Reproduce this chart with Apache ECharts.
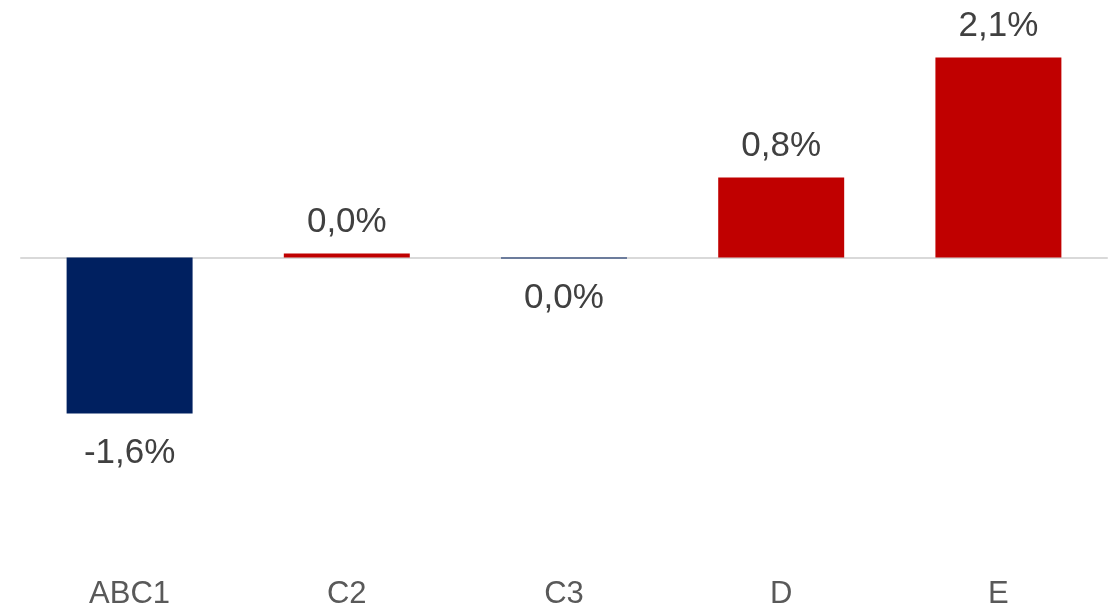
<!DOCTYPE html>
<html>
<head>
<meta charset="utf-8">
<script src="https://cdn.jsdelivr.net/npm/echarts@6/dist/echarts.min.js"></script>
<style>html,body{margin:0;padding:0;background:#fff}#c{width:1112px;height:610px}</style>
</head>
<body>
<div id="c"></div>
<script>
const categories = ['ABC1', 'C2', 'C3', 'D', 'E'];
const values = [-1.64, 0.04, -0.01, 0.84, 2.1];
const labels = ['-1,6%', '0,0%', '0,0%', '0,8%', '2,1%'];
const POS_COLOR = '#C00000';
const NEG_COLOR = '#002060';

const chart = echarts.init(document.getElementById('c'));
const data = values.map((v, i) => ({
  value: v,
  itemStyle: { color: v < 0 ? NEG_COLOR : POS_COLOR },
  label: { position: v < 0 ? 'bottom' : 'top', distance: v < 0 ? 22 : 14, formatter: labels[i] }
}));
chart.setOption({
  animation: false,
  grid: { left: 21, right: 5, top: 48, bottom: 63 },
  xAxis: [
    {
      type: 'category', data: categories, position: 'bottom',
      axisLine: { show: false, onZero: false }, axisTick: { show: false },
      axisLabel: { fontFamily: 'Liberation Sans, Arial, sans-serif', fontSize: 31, color: '#595959', margin: 36 }
    },
    {
      type: 'category', data: categories, gridIndex: 0,
      axisLine: { show: true, onZero: true, lineStyle: { color: '#d9d9d9', width: 2 } },
      axisTick: { show: false }, axisLabel: { show: false }
    }
  ],
  yAxis: { type: 'value', min: -3, max: 2.2, show: false, splitLine: { show: false } },
  series: [{
    type: 'bar', data: data, xAxisIndex: 0, barCategoryGap: '42%',
    label: { show: true, fontFamily: 'Liberation Sans, Arial, sans-serif', fontSize: 35, color: '#404040' }
  }]
});
</script>
</body>
</html>
